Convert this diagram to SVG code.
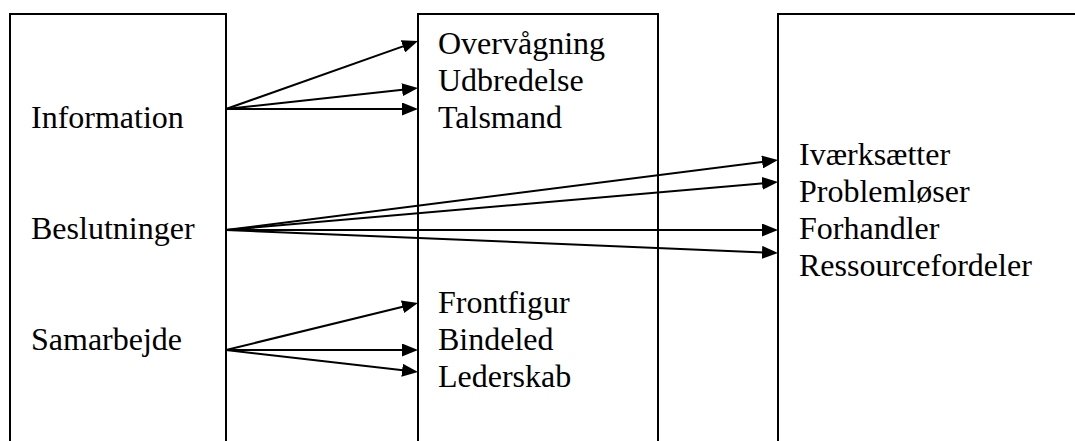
<svg xmlns="http://www.w3.org/2000/svg" width="1075" height="441" viewBox="0 0 1075 441">
  <style>
    .box { fill: none; stroke: #000; stroke-width: 2; }
    .lbl { font-family: "Liberation Serif", "Times New Roman", serif; font-size: 32px; fill: #000; }
    .arrow { stroke: #000; stroke-width: 2; fill: none; marker-end: url(#head); }
  </style>
  <defs>
    <marker id="head" markerUnits="userSpaceOnUse" markerWidth="16" markerHeight="13" refX="12" refY="6.5" orient="auto">
      <path d="M0,0 L16,6.5 L0,13 z" fill="#000"/>
    </marker>
  </defs>
  <rect width="1075" height="441" fill="#fff"/>

  <!-- left column: management areas -->
  <g id="areas">
    <path class="box" d="M10,443 V14 H226 V443"/>
    <text class="lbl" x="31" y="127.5">Information</text>
    <text class="lbl" x="31" y="238.5">Beslutninger</text>
    <text class="lbl" x="31" y="349.5">Samarbejde</text>
  </g>

  <!-- middle column: roles -->
  <g id="roles-middle">
    <path class="box" d="M418,443 V14 H658 V443"/>
    <text class="lbl" x="438" y="53.5">Overvågning</text>
    <text class="lbl" x="438" y="90.5">Udbredelse</text>
    <text class="lbl" x="438" y="127.5">Talsmand</text>
    <text class="lbl" x="438" y="312.5">Frontfigur</text>
    <text class="lbl" x="438" y="349.5">Bindeled</text>
    <text class="lbl" x="438" y="386.5">Lederskab</text>
  </g>

  <!-- right column: decision roles -->
  <g id="roles-right">
    <path class="box" d="M778,443 V14 H1077"/>
    <text class="lbl" x="799" y="164.5">Iværksætter</text>
    <text class="lbl" x="799" y="201.5">Problemløser</text>
    <text class="lbl" x="799" y="238.5">Forhandler</text>
    <text class="lbl" x="799" y="275.5">Ressourcefordeler</text>
  </g>

  <!-- connectors: each line stops 4px short of the box edge, the head covers the rest -->
  <g id="connectors">
    <line class="arrow" x1="226" y1="109" x2="414.23" y2="42.34"/>
    <line class="arrow" x1="226" y1="109" x2="414.02" y2="88.43"/>
    <line class="arrow" x1="226" y1="109" x2="414" y2="109"/>

    <line class="arrow" x1="226" y1="230" x2="774.03" y2="160.50"/>
    <line class="arrow" x1="226" y1="230" x2="774.02" y2="182.35"/>
    <line class="arrow" x1="226" y1="230" x2="774" y2="230"/>
    <line class="arrow" x1="226" y1="230" x2="774" y2="252.83"/>

    <line class="arrow" x1="226" y1="350" x2="414.11" y2="303.95"/>
    <line class="arrow" x1="226" y1="350" x2="414" y2="350"/>
    <line class="arrow" x1="226" y1="350" x2="414.03" y2="371.54"/>
  </g>
</svg>
